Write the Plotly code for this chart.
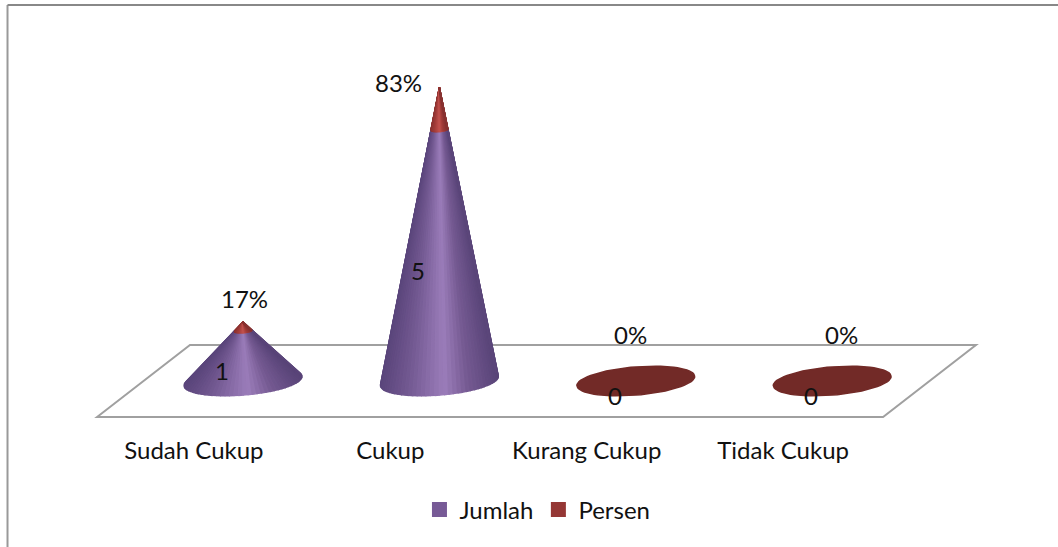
import math

import plotly.graph_objects as go

categories = ["Sudah Cukup", "Cukup", "Kurang Cukup", "Tidak Cukup"]
jumlah = [1, 5, 0, 0]
persen = [0.17, 0.83, 0, 0]

FONT = dict(family="Lato", size=24, color="#111111")

# cone base, in axis units
BASE_A = 0.3
BASE_B = 0.28
BASE_TILT = 0.09
FACETS = 48

PURPLE_STOPS = [(-1, "#5a457b"), (-0.5, "#745a93"), (0.1, "#9b7dba"), (0.5, "#755a92"), (1, "#594478")]
RED_STOPS = [(-1, "#8a3230"), (-0.5, "#a23c39"), (0.1, "#c4524e"), (0.5, "#a23c39"), (1, "#863130")]

# hand placed labels in the original, pixels from the anchor
JUMLAH_SHIFT = (-21, -15)
PERSEN_SHIFT = [(1, 24), (-41, 5), (-5, 46), (9, 46)]


def shade(stops, u):
    for (u0, c0), (u1, c1) in zip(stops, stops[1:]):
        if u <= u1:
            f = (u - u0) / (u1 - u0)
            rgb = [round(int(c0[i:i + 2], 16) * (1 - f) + int(c1[i:i + 2], 16) * f) for i in (1, 3, 5)]
            return "rgb(%d,%d,%d)" % tuple(rgb)
    return stops[-1][1]


def rim(center, t):
    return center + BASE_A * math.cos(t), BASE_B * math.sin(t) + BASE_TILT * math.cos(t)


def band(fig, center, total, low, high, stops):
    # one stack segment of the cone, painted as thin vertical facets
    apex = (center, total)
    f0, f1 = low / total, high / total
    for n in range(FACETS):
        t0 = math.pi - 0.32 + (math.pi + 0.64) * n / FACETS
        t1 = math.pi - 0.32 + (math.pi + 0.64) * (n + 1) / FACETS
        p0, p1 = rim(center, t0), rim(center, t1)
        xs, ys = [], []
        for p, f in ((p0, f0), (p1, f0), (p1, f1), (p0, f1), (p0, f0)):
            xs.append(p[0] * (1 - f) + apex[0] * f)
            ys.append(p[1] * (1 - f) + apex[1] * f)
        color = shade(stops, math.cos((t0 + t1) / 2))
        fig.add_trace(go.Scatter(x=xs, y=ys, mode="lines", fill="toself", fillcolor=color,
                                 line=dict(color=color, width=1.5), showlegend=False, hoverinfo="skip"))


def flat_base(fig, center):
    ts = [2 * math.pi * n / 72 for n in range(73)]
    fig.add_trace(go.Scatter(x=[rim(center, t)[0] for t in ts], y=[rim(center, t)[1] for t in ts],
                             mode="lines", fill="toself", fillcolor="#722a27",
                             line=dict(color="#722a27", width=1.5), showlegend=False, hoverinfo="skip"))


fig = go.Figure()

for i, name in enumerate(categories):
    total = jumlah[i] + persen[i]
    if total == 0:
        flat_base(fig, i)
    else:
        band(fig, i, total, 0, jumlah[i], PURPLE_STOPS)
        band(fig, i, total, jumlah[i], total, RED_STOPS)

# legend swatches only
fig.add_trace(go.Scatter(x=[None], y=[None], mode="markers", name="Jumlah",
                         marker=dict(symbol="square", size=15, color="#775a96")))
fig.add_trace(go.Scatter(x=[None], y=[None], mode="markers", name="Persen",
                         marker=dict(symbol="square", size=15, color="#953735")))

for i in range(len(categories)):
    fig.add_annotation(x=i, y=jumlah[i] / 2, text=str(jumlah[i]), showarrow=False, font=FONT,
                       xshift=JUMLAH_SHIFT[0], yshift=JUMLAH_SHIFT[1])
    fig.add_annotation(x=i, y=jumlah[i] + persen[i], text=f"{persen[i]:.0%}", showarrow=False, font=FONT,
                       xshift=PERSEN_SHIFT[i][0], yshift=PERSEN_SHIFT[i][1])

# floor of the 3d plot
fig.add_shape(type="path", path="M -0.743 -0.716 L -0.27 0.716 L 3.732 0.716 L 3.259 -0.716 Z",
              xref="x", yref="y", layer="below", line=dict(color="#a0a0a0", width=2))
# chart frame, cut off by the screenshot on the right and bottom
fig.add_shape(type="line", xref="paper", yref="paper", x0=0.0071, x1=0.0071, y0=-0.29, y1=0.988,
              line=dict(color="#999999", width=2))
fig.add_shape(type="line", xref="paper", yref="paper", x0=0.0071, x1=1, y0=0.988, y1=0.988,
              line=dict(color="#888888", width=2))

fig.update_xaxes(range=[-1.2373, 4.1497], tickvals=[i - 0.25 for i in range(len(categories))],
                 ticktext=categories, showgrid=False, zeroline=False, showline=False,
                 ticks="outside", ticklen=4, tickcolor="rgba(0,0,0,0)", tickfont=FONT)
fig.update_yaxes(range=[-0.875, 7.575], visible=False)

fig.update_layout(
    width=1058,
    height=547,
    margin=dict(l=0, r=0, t=0, b=122),
    paper_bgcolor="white",
    plot_bgcolor="white",
    font=FONT,
    legend=dict(orientation="h", x=0.508, xanchor="center", y=-0.2, yanchor="middle",
                font=FONT, itemwidth=30, bgcolor="rgba(0,0,0,0)"),
)

fig.write_html("out.html", config=dict(displayModeBar=False),
               post_script="document.body.style.margin='0';")
